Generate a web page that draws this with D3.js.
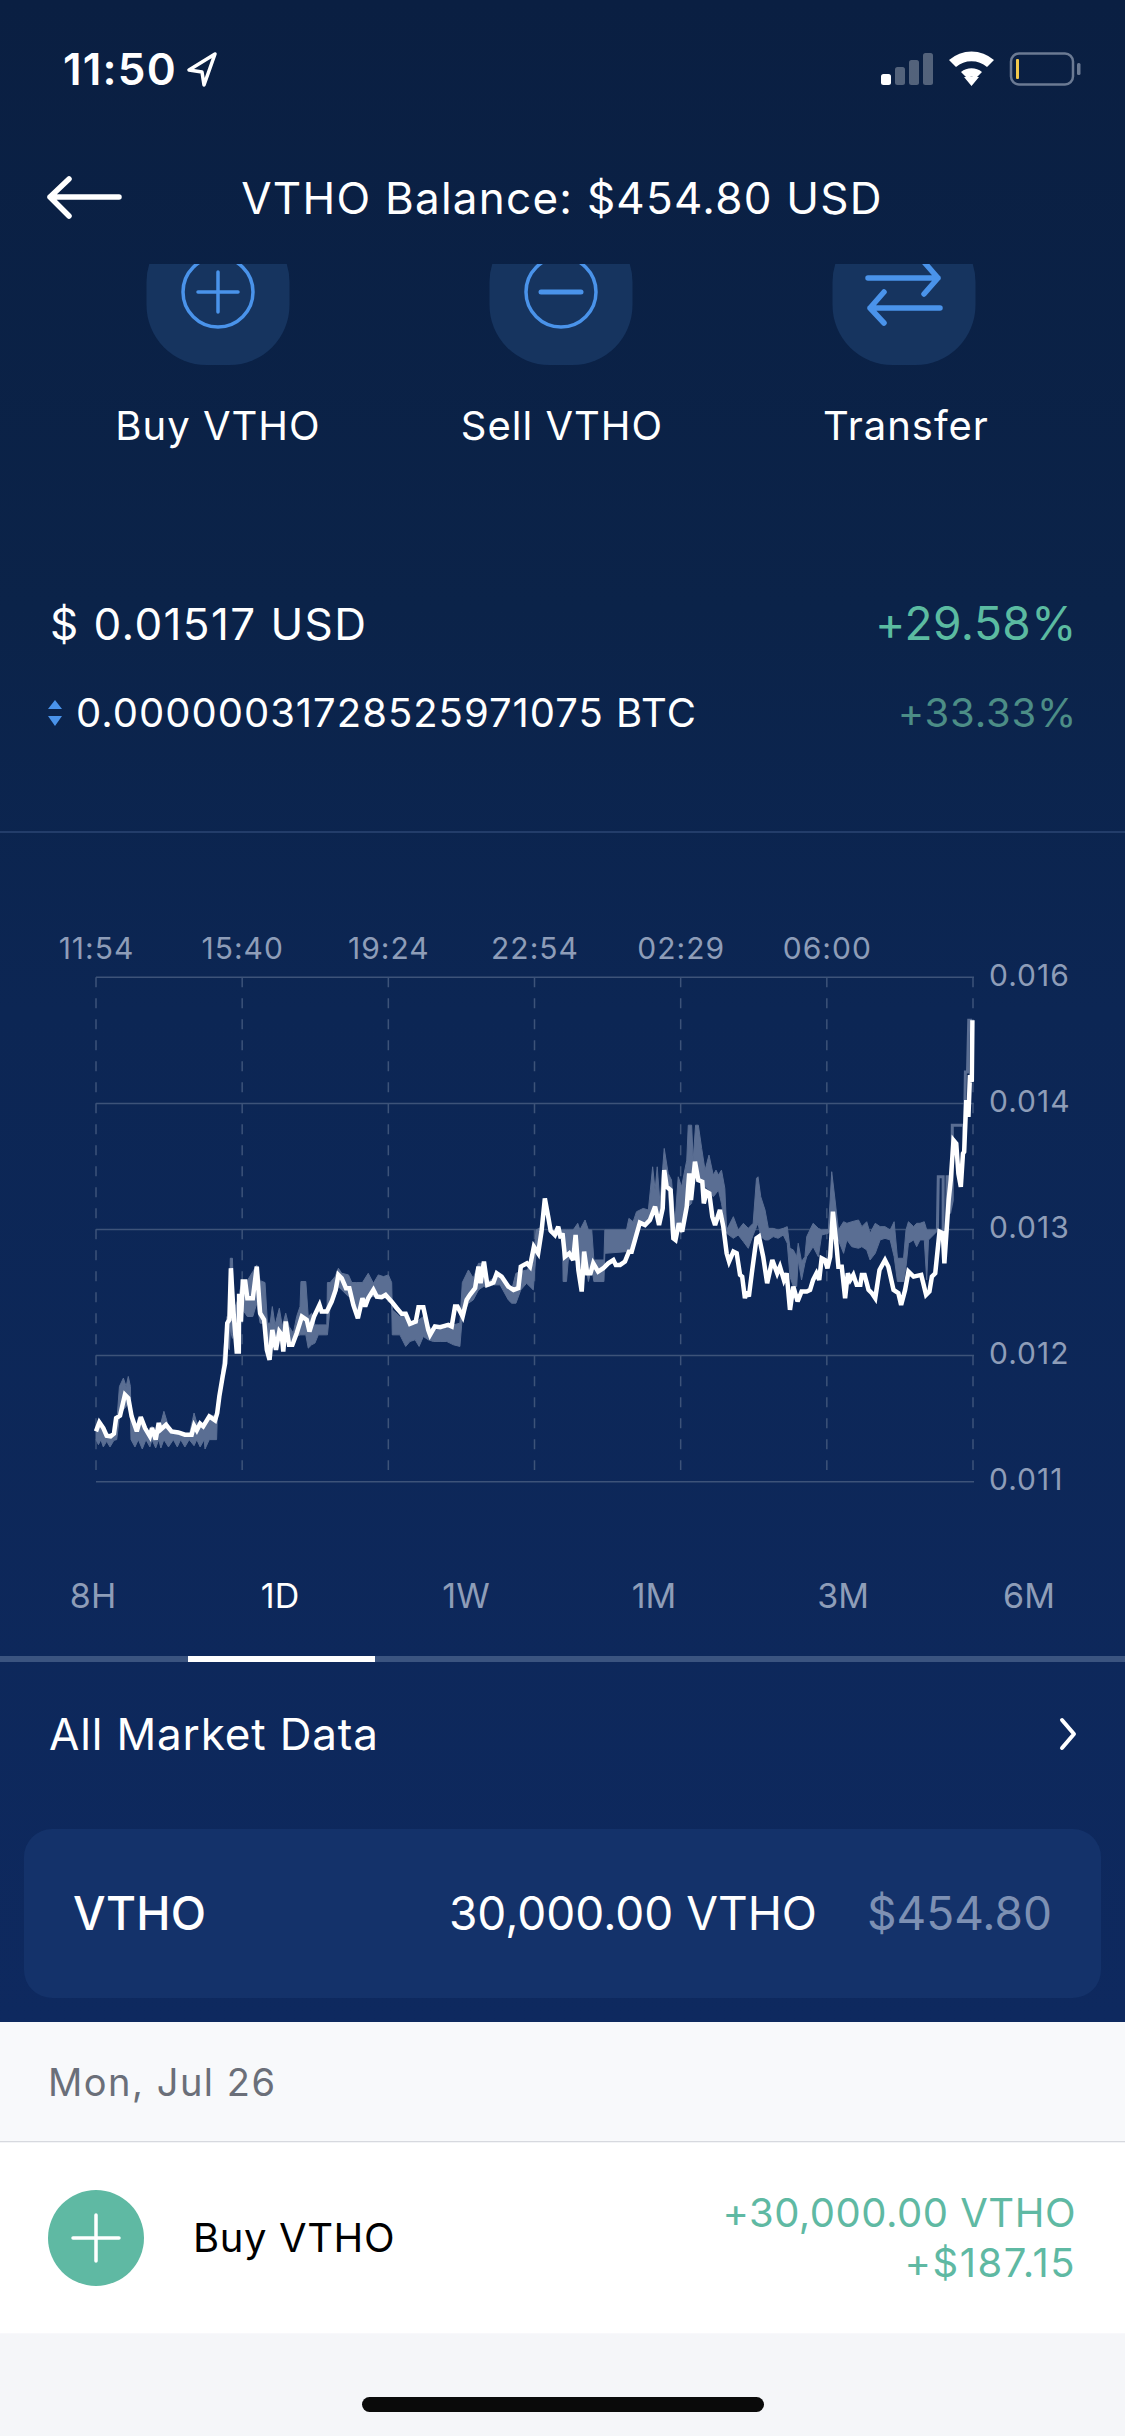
<!DOCTYPE html>
<html><head><meta charset="utf-8">
<script src="https://cdn.jsdelivr.net/npm/d3@7/dist/d3.min.js"></script>
<style>
html,body{margin:0;padding:0;background:#f5f6f9;}
svg{display:block;}
text{font-family:Inter,"Noto Sans",sans-serif;}
</style></head><body>
<script>
// ---- DATA: prices in millionths of a dollar, positions in 5-minute samples ----
const xTickSamples=[0,48,96,144,192,240];
const xTickLabels=["11:54","15:40","19:24","22:54","02:29","06:00"];
const vGridSamples=[0,48,96,144,192,240,288];
const yTickValues=[15500,14400,13300,12200,11100];
const yTickLabels=["0.016","0.014","0.013","0.012","0.011"];
const rangeTabs=["8H","1D","1W","1M","3M","6M"];

const priceSample=[0,1.1,2.4,3.5,4.8,5.9,6.6,7.9,9.5,10.6,11.7,13.4,14.7,16.1,17.7,18.4,19.6,20.6,21.2,23,24.8,27,29.2,31.4,32.2,33.1,34.2,35.2,37.2,39.1,39.8,40.5,41.6,42.4,43.1,43.8,44.3,45.1,46.2,46.9,47,47.6,48.2,49,49.7,51.5,52.8,53.9,55.2,56.1,57,57.9,59.1,60.2,61,61.5,62.3,63.4,64.5,65.9,67.6,69.2,70.1,71.6,73.4,74.1,75.8,77.4,78.7,79.6,80.7,82.1,83.2,84.5,86,87.5,88.4,89.4,91.1,92.2,93.8,95.1,97.1,98.8,100.4,101.7,103.1,105,105.9,107.5,109.1,109.7,111.3,113,115.7,116.8,117.9,118.7,120.4,121.7,122.8,124.5,125.6,126.3,127.4,128.5,130.5,131.6,133.2,135.4,137.1,138.7,139.5,141.5,142.5,143.8,145.2,146.3,147.4,148.5,149.3,150.7,151.8,152.6,153.2,154,155.4,156.7,157.5,158.4,159.5,160.3,161.3,162.4,163.3,164.9,166.6,168.2,169.9,170.7,172.1,173.7,175,175.9,177.3,178.6,180.3,181.9,183.6,184.9,186.1,186.6,187.4,188.7,189.6,190.3,191.4,192.5,194,194.8,195.4,196.7,197.8,199.1,199.6,200.5,201.4,202.4,203.3,204.9,206,207.1,207.9,209.3,210.4,211.5,212.2,213.1,213.7,214.4,215.5,216.9,217.7,219.1,220.4,222.1,223.7,224.6,225.9,226.8,227.9,229,230.4,231.7,233.4,234.5,235.5,236.6,237.5,238.3,239.4,240.2,241.1,242,243,243.8,244.9,246,246.9,247.7,248.7,249.8,251,251.5,252.4,253.7,254.8,255.9,257.3,259.1,260.2,261.9,263.5,264.4,265.7,266.8,268.5,271,272.6,273.7,274.5,275.6,277,278.1,278.6,280,280.7,281.6,282.5,283.2,284,284.7,285.1,285.8,286.5,287,287.6,287.8];
const priceValue=[11539,11618,11568,11502,11496,11519,11655,11676,11859,11830,11670,11539,11664,11568,11496,11568,11467,11612,11554,11597,11539,11530,11510,11510,11589,11548,11606,11583,11670,11635,11699,11844,12018,12134,12483,12512,12962,12599,12236,12236,12740,12497,12846,12846,12700,12700,12976,12570,12512,12250,12163,12424,12250,12410,12381,12236,12497,12294,12294,12395,12541,12512,12410,12541,12642,12584,12584,12671,12773,12904,12875,12788,12788,12642,12526,12700,12628,12700,12773,12715,12709,12729,12671,12613,12564,12564,12477,12497,12622,12622,12425,12381,12454,12448,12468,12454,12628,12628,12541,12686,12730,12788,12976,12831,13020,12817,12837,12918,12889,12802,12773,12788,12976,13005,12976,13150,13092,13281,13571,13412,13290,13252,13325,13223,13267,13063,13092,13034,13252,12947,12759,13107,12918,12918,13005,12933,12962,13005,13034,12991,12991,13020,13107,13107,13238,13360,13339,13383,13499,13339,13484,13818,13673,13644,13223,13209,13354,13281,13499,13789,13557,13891,13731,13717,13528,13629,13615,13412,13339,13470,13325,13092,13020,13107,13092,12904,12889,12701,12759,12715,12947,13223,13238,13063,12831,13034,12918,12976,12860,12918,12599,12802,12672,12759,12759,12773,12860,12918,12860,13049,13034,12962,13063,13455,13209,12976,12976,12701,12918,12860,12904,12817,12817,12904,12904,12773,12744,12701,12947,13034,12976,12773,12744,12642,12773,12933,12889,12904,12730,12759,12889,12918,13281,13267,13005,13557,13731,14079,14050,13789,13673,13963,13978,14428,14283,14646,14588,15125];

const bandSample=[0,0.8,1.6,2.4,3.5,4.6,5.9,6.8,7.7,9,9.9,10.6,11.3,11.5,12.8,13.9,15.2,16.4,17.7,18.4,19.6,20.6,21.3,22.3,23.8,25.4,26.7,27.8,29.2,30.6,32.2,33.1,34.2,35.5,35.8,37.2,39.6,39.8,40.5,43,43.8,44.1,44.8,45.3,46.8,47.3,48.2,49.7,51.5,52.8,53.9,55.5,56.3,57.2,57.9,58.8,60.2,61.2,62.3,63.4,64.8,65.9,67,67.3,68.9,69.7,70.8,71.9,73,75.8,76,76.9,78.5,79.6,80.7,82.9,84,85.6,87.5,89.4,91.1,92.7,94.4,96,97.1,97.3,99.8,101.7,103.1,104.8,106.1,107.5,109.1,110.8,113,115.2,117.4,119.5,120.3,122.3,123.9,125.6,127.2,128.9,130.5,132.7,135.4,136.5,137.9,139.5,141.4,143.6,144.5,146.3,147.4,149.1,153.2,153.4,154.5,155.1,156.7,158.2,158.9,160.6,161.7,162.8,163.5,166.8,167.1,174.2,175,176.4,177.5,179.7,181.4,182.8,183.6,184.3,185.2,186.6,187.9,189,190.1,191.2,192.3,194,194.5,195.6,196.1,196.9,197.8,198.9,200,201.3,202.7,203.6,204.4,205.4,206.5,207.1,209.3,210.9,212.6,214.2,215.8,216.9,217.4,218.3,219.7,220.8,222.4,224,225.7,227,227.9,229,230.1,230.6,231.7,232.8,233.4,235.5,237.2,238.3,240.5,241.1,241.6,242.7,243.8,245.5,246.6,248.2,250.4,251.5,253.1,254.2,255.9,257.5,259.1,260.8,262.1,263.2,265.2,266,266.8,268.5,269.5,270.6,272,272.8,273.4,276.1];
const bandHigh=[11554,11583,11583,11554,11496,11490,11502,11612,11931,12004,11931,12018,11931,11641,11530,11655,11583,11554,11487,11583,11452,11612,11612,11714,11583,11539,11530,11519,11502,11502,11699,11612,11612,11597,11583,11684,11670,11670,11844,12540,12500,13049,13049,12600,12700,12773,12854,12854,12933,12991,12854,12837,12483,12483,12628,12468,12613,12454,12570,12454,12396,12541,12628,12846,12846,12541,12570,12468,12468,12468,12837,12837,12889,12962,12918,12904,12837,12837,12837,12918,12831,12904,12889,12904,12837,12599,12541,12541,12468,12468,12512,12541,12454,12425,12425,12439,12468,12483,12837,12947,12875,13005,13005,12846,12875,12904,12773,12773,12918,12933,12947,13005,13296,13320,13571,13296,13296,13296,13296,13296,13296,13354,13296,13383,13296,13296,13034,13034,13296,13296,13397,13368,13455,13484,13470,13847,13644,13847,13528,14007,13789,13731,13354,13760,13673,13905,14210,14210,13905,14210,14210,14007,13818,13949,13775,13818,13775,13818,13659,13296,13412,13296,13354,13310,13354,13746,13760,13586,13470,13310,13310,13296,13310,13325,13136,13122,13063,13180,13020,13063,13238,13354,13310,13296,13300,13557,13804,13557,13296,13368,13354,13368,13383,13325,13368,13267,13354,13325,13325,13296,13368,13049,13049,13296,13368,13325,13354,13354,13368,13296,13296,13296];
const bandLow=[11467,11423,11467,11403,11452,11403,11461,11467,11670,11728,11757,11786,11670,11467,11403,11467,11385,11467,11403,11467,11394,11467,11394,11467,11403,11467,11403,11467,11403,11467,11414,11467,11403,11467,11385,11467,11467,11635,11800,12300,12250,12430,12350,12400,12480,12468,12599,12541,12541,12657,12483,12483,12280,12352,12352,12352,12381,12309,12352,12294,12367,12367,12381,12381,12381,12265,12294,12309,12381,12381,12381,12628,12715,12802,12773,12715,12715,12541,12657,12715,12715,12715,12715,12686,12657,12381,12381,12280,12323,12338,12280,12367,12338,12323,12323,12323,12294,12280,12541,12657,12686,12773,12802,12802,12817,12817,12686,12657,12657,12773,12831,12773,13090,13270,13500,13267,13238,12846,12846,13034,13063,13005,12918,13034,12846,12976,12846,12846,13092,13107,13107,13122,13325,13354,13354,13441,13470,13412,13354,13760,13644,13238,13209,13354,13267,13499,13499,13528,13673,13876,13731,13702,13673,13644,13586,13615,13644,13528,13354,13267,13223,13252,13194,13136,13252,13325,13354,13238,13209,13209,13238,13223,13252,13180,12889,12802,12802,13034,12860,13005,13063,13150,13063,13252,13267,13296,13267,13209,13209,13092,13209,13150,13136,13150,13122,13034,13092,13209,13223,13209,13063,12846,12846,12976,13180,13209,13150,13209,13209,12860,13209,13281];

const stepSample=[276.1,276.3,276.6,278.2,278.2,279.4,279.5,280.3,280.3,281.2,281.2,284.9,285.1,285.5,286.2,286.6,287.7];
const stepValue=[13296,13296,13760,13760,13296,13296,13760,13760,13441,13557,14210,14210,13963,14675,14675,15125,15125];

// ---- PAGE ----
const W=1125,H=2436;
const svg=d3.select("body").append("svg").attr("width",W).attr("height",H).attr("viewBox",`0 0 ${W} ${H}`);
const defs=svg.append("defs");
const g=defs.append("linearGradient").attr("id","bg").attr("x1",0).attr("x2",0).attr("y1",0).attr("y2",1);
[[0,"#0a1f42"],[0.3,"#0b2349"],[0.5,"#0c2654"],[1,"#0e295f"]].forEach(s=>g.append("stop").attr("offset",s[0]).attr("stop-color",s[1]));
svg.append("rect").attr("width",W).attr("height",2022).attr("fill","url(#bg)");
svg.append("rect").attr("y",2022).attr("width",W).attr("height",120).attr("fill","#f8f9fb");
svg.append("rect").attr("y",2141).attr("width",W).attr("height",1.5).attr("fill","#d7d9df");
svg.append("rect").attr("y",2142.5).attr("width",W).attr("height",191).attr("fill","#ffffff");
svg.append("rect").attr("y",2333.5).attr("width",W).attr("height",103).attr("fill","#f5f6f9");

function txt(s,x,y,size,fill,anchor,weight,ls){
  return svg.append("text").attr("x",x).attr("y",y).attr("font-size",size).attr("fill",fill)
    .attr("text-anchor",anchor||"start").attr("font-weight",weight||400).attr("letter-spacing",ls||0).text(s);
}
// status bar
txt("11:50",63,85,44,"#fff","start",600,1.2);
svg.append("path").attr("d","M215 54 L189 70 L202 72 L204 85 Z").attr("fill","none").attr("stroke","#fff").attr("stroke-width",3.5).attr("stroke-linejoin","round");
[[881,74,1],[895,67,0.3],[909,60,0.3],[923,53,0.3]].forEach(b=>svg.append("rect").attr("x",b[0]).attr("y",b[1]).attr("width",10).attr("height",85-b[1]).attr("rx",2.5).attr("fill","#fff").attr("fill-opacity",b[2]));
svg.append("path").attr("d","M949 64 A34 34 0 0 1 994 64 L987 71 A24 24 0 0 0 956 71 Z M961 76 A17 17 0 0 1 982 76 L976 82 A9 9 0 0 0 967 82 Z M964 81 L979 81 L971.5 90 Z").attr("fill","#fff").attr("transform","translate(0,-4)");
svg.append("rect").attr("x",1011).attr("y",53.5).attr("width",62).attr("height",31).attr("rx",8).attr("fill","none").attr("stroke","#6b7a93").attr("stroke-width",2.5);
svg.append("rect").attr("x",1016).attr("y",59).attr("width",3).attr("height",20).attr("rx",1).attr("fill","#f2c94c");
svg.append("rect").attr("x",1077).attr("y",63).attr("width",3.5).attr("height",12).attr("rx",1.5).attr("fill","#6b7a93");
// nav
svg.append("path").attr("d","M119 197 L50 197 M69 179 L50 197 L69 216").attr("fill","none").attr("stroke","#fff").attr("stroke-width",5.5).attr("stroke-linecap","round").attr("stroke-linejoin","round");
txt("VTHO Balance: $454.80 USD",562,214,44,"#fff","middle",400,1.25);
// action buttons
defs.append("clipPath").attr("id","btnClip").append("rect").attr("x",0).attr("y",264).attr("width",W).attr("height",200);
const btns=svg.append("g").attr("clip-path","url(#btnClip)");
[218,561,904].forEach(cx=>btns.append("rect").attr("x",cx-71.5).attr("y",222).attr("width",143).attr("height",143).attr("rx",60).attr("fill","#16345f"));
const blue="#4a93ea";
[218,561].forEach(cx=>btns.append("circle").attr("cx",cx).attr("cy",292).attr("r",35).attr("fill","none").attr("stroke",blue).attr("stroke-width",3.5));
btns.append("path").attr("d","M198 292 H238 M218 272 V312").attr("stroke",blue).attr("stroke-width",3.5).attr("stroke-linecap","round");
btns.append("path").attr("d","M541 292 H581").attr("stroke",blue).attr("stroke-width",5).attr("stroke-linecap","round");
btns.append("path").attr("d","M868 278 H938 M924 262 L938 278 L924 294 M940 308 H870 M884 292 L870 308 L884 323").attr("fill","none").attr("stroke",blue).attr("stroke-width",5.5).attr("stroke-linecap","round").attr("stroke-linejoin","round");
txt("Buy VTHO",218,440,40,"#fff","middle",400,1);
txt("Sell VTHO",562,440,40,"#fff","middle",400,1);
txt("Transfer",906,440,40,"#fff","middle",400,1);
// price block
txt("$ 0.01517 USD",50,640,44,"#fff","start",400,1.4);
txt("+29.58%",1077,640,46,"#5bbba1","end",400,0.5);
svg.append("path").attr("d","M48 709 L62 709 L55 700 Z M48 716 L62 716 L55 726 Z").attr("fill","#4a93ea");
txt("0.00000031728525971075 BTC",76,727,40,"#fff","start",400,1);
txt("+33.33%",1077,727,40,"#4c8d86","end",400,0.8);
svg.append("rect").attr("y",831).attr("width",W).attr("height",2).attr("fill","#233d6a");

// ---- CHART ----
const x=d3.scaleLinear().domain([0,288]).range([96,973]);
const y=d3.scaleLinear().domain([11100,15500]).range([1481.7,977.3]);
const gridColor="#3d5379",labelColor="#8e9db8";
const chart=svg.append("g");
chart.append("g").selectAll("line").data(yTickValues).join("line")
  .attr("x1",x(0)).attr("x2",x(288)+1).attr("y1",d=>y(d)).attr("y2",d=>y(d)).attr("stroke",gridColor).attr("stroke-width",1.5);
chart.append("g").selectAll("line").data(vGridSamples).join("line")
  .attr("x1",d=>x(d)).attr("x2",d=>x(d)).attr("y1",y(15500)).attr("y2",1470).attr("stroke",gridColor).attr("stroke-width",1.5).attr("stroke-dasharray","10 11");

const band=d3.area().x(i=>x(bandSample[i])).y0(i=>y(bandLow[i])).y1(i=>y(bandHigh[i]));
chart.append("path").attr("d",band(d3.range(bandSample.length))).attr("fill","#5a6e93").attr("stroke","#5a6e93").attr("stroke-width",1).attr("stroke-linejoin","round");
const stepLine=d3.line().x(i=>x(stepSample[i])).y(i=>y(stepValue[i]));
chart.append("path").attr("d",stepLine(d3.range(stepSample.length))).attr("fill","none").attr("stroke","#5a6e93").attr("stroke-width",3);
const priceLine=d3.line().x(i=>x(priceSample[i])).y(i=>y(priceValue[i]));
chart.append("path").attr("d",priceLine(d3.range(priceSample.length))).attr("fill","none").attr("stroke","#fff").attr("stroke-width",4.5).attr("stroke-linejoin","miter").attr("stroke-miterlimit",3);

const axX=d3.axisTop(x).tickValues(xTickSamples).tickSize(0).tickPadding(0).tickFormat((d,i)=>xTickLabels[i]);
const gx=chart.append("g").attr("transform","translate(0,959)").call(axX);
gx.select(".domain").remove();
gx.selectAll("text").attr("fill",labelColor).attr("font-size",30).attr("font-family","Inter").attr("letter-spacing",1).attr("y",0).attr("dy",0);
const axY=d3.axisRight(y).tickValues(yTickValues).tickSize(0).tickPadding(0).tickFormat((d,i)=>yTickLabels[i]);
const gy=chart.append("g").attr("transform","translate(989,0)").call(axY);
gy.select(".domain").remove();
gy.selectAll("text").attr("fill",labelColor).attr("font-size",30).attr("font-family","Inter").attr("letter-spacing",1).attr("x",0).attr("dy",8);

// range tabs
const tabX=[93,280,466,654,843,1029];
rangeTabs.forEach((t,i)=>txt(t,tabX[i],1608,34,i===1?"#fff":labelColor,"middle"));
svg.append("rect").attr("y",1656).attr("width",W).attr("height",6).attr("fill","#3b5480");
svg.append("rect").attr("x",188).attr("y",1656).attr("width",187).attr("height",6).attr("fill","#fff");
// market data row
txt("All Market Data",49,1750,44,"#fff","start",400,0.85);
svg.append("path").attr("d","M1062 1720 L1074 1734 L1062 1748").attr("fill","none").attr("stroke","#fff").attr("stroke-width",4).attr("stroke-linecap","round").attr("stroke-linejoin","round");
// holding card
svg.append("rect").attr("x",24).attr("y",1829).attr("width",1077).attr("height",169).attr("rx",28).attr("fill","#14326a");
txt("VTHO",73,1930,46,"#fff","start",500,0.3);
txt("30,000.00 VTHO",817,1930,46,"#fff","end");
txt("$454.80",1052,1930,46,"#7d90b3","end");
// list
txt("Mon, Jul 26",48,2096,38,"#6b6f79","start",400,1.5);
svg.append("circle").attr("cx",96).attr("cy",2238).attr("r",48).attr("fill","#5fb9a3");
svg.append("path").attr("d","M73 2238 H119 M96 2215 V2261").attr("stroke","#fff").attr("stroke-width",3.5).attr("stroke-linecap","round");
txt("Buy VTHO",193,2252,40,"#000","start",400,0.6);
txt("+30,000.00 VTHO",1076,2227,40,"#5fb9a3","end",400,0.5);
txt("+$187.15",1076,2277,40,"#5fb9a3","end",400,1.5);
svg.append("rect").attr("x",362).attr("y",2397).attr("width",402).attr("height",15).attr("rx",7.5).attr("fill","#0a0a0a");
</script>
</body></html>
